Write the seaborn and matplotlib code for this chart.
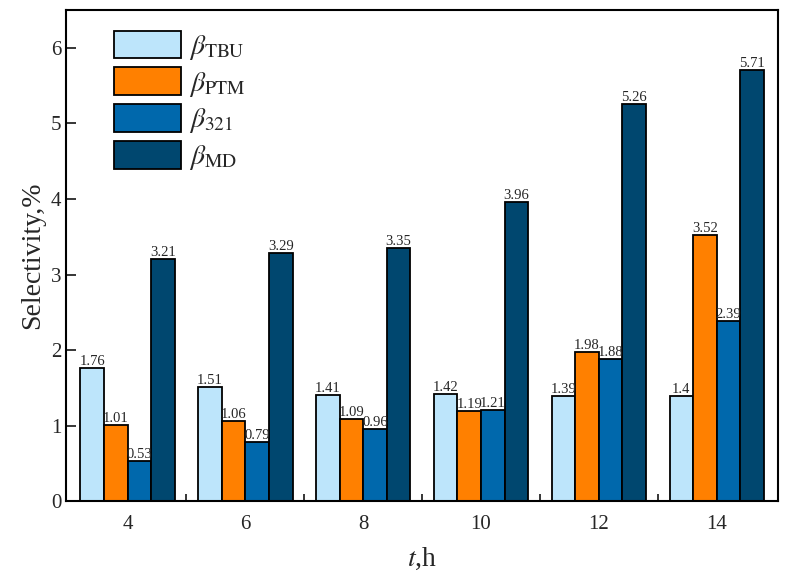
import numpy as np
import pandas as pd
import matplotlib
matplotlib.use("Agg")
import matplotlib.pyplot as plt
import seaborn as sns
from matplotlib.ticker import FixedLocator

# Data
hours = ["4", "6", "8", "10", "12", "14"]
beta_tbu = [1.76, 1.51, 1.41, 1.42, 1.39, 1.4]
beta_ptm = [1.01, 1.06, 1.09, 1.19, 1.98, 3.52]
beta_321 = [0.53, 0.79, 0.96, 1.21, 1.88, 2.39]
beta_md = [3.21, 3.29, 3.35, 3.96, 5.26, 5.71]
series_names = [r"$\beta_{\mathrm{TBU}}$", r"$\beta_{\mathrm{PTM}}$",
                r"$\beta_{321}$", r"$\beta_{\mathrm{MD}}$"]
colors = ["#BDE5FB", "#FF8000", "#0068AC", "#00476F"]

df = pd.DataFrame({
    "t": hours * 4,
    "value": beta_tbu + beta_ptm + beta_321 + beta_md,
    "series": np.repeat(series_names, len(hours)),
})

sns.set_style("white")
plt.rcParams["font.family"] = ["Liberation Serif", "DejaVu Serif"]
plt.rcParams["mathtext.fontset"] = "stix"

fig, ax = plt.subplots(figsize=(7.89, 5.81), dpi=100)
sns.barplot(data=df, x="t", y="value", hue="series", palette=colors,
            edgecolor="black", linewidth=1.3, saturation=1, ax=ax)

for cont in ax.containers:
    ax.bar_label(cont, fmt="%g", padding=0, fontsize=10.5)

ax.set_ylim(0, 6.5)
ax.set_xlim(-0.52, 5.52)
ax.set_yticks(range(0, 7))
ax.xaxis.set_minor_locator(FixedLocator(np.arange(0.5, 5.5, 1)))
ax.tick_params(axis="x", which="major", length=0, labelsize=15, pad=10)
ax.tick_params(axis="x", which="minor", direction="in", length=5, width=1.3,
               bottom=True)
ax.tick_params(axis="y", direction="in", length=7, width=1.3, labelsize=15,
               left=True)
for s in ax.spines.values():
    s.set_linewidth(1.5)
    s.set_color("black")

ax.set_xlabel(r"$t$,h", fontsize=20, labelpad=8)
ax.set_ylabel("Selectivity,%", fontsize=20)

leg = ax.legend(loc="upper left", frameon=False, fontsize=20,
                handlelength=2.4, handleheight=1.15, labelspacing=0.2,
                handletextpad=0.3, borderaxespad=0.35,
                bbox_to_anchor=(0.038, 1.0))

plt.subplots_adjust(left=0.084, right=0.986, top=0.983, bottom=0.137)
plt.savefig("out.png", dpi=100)
